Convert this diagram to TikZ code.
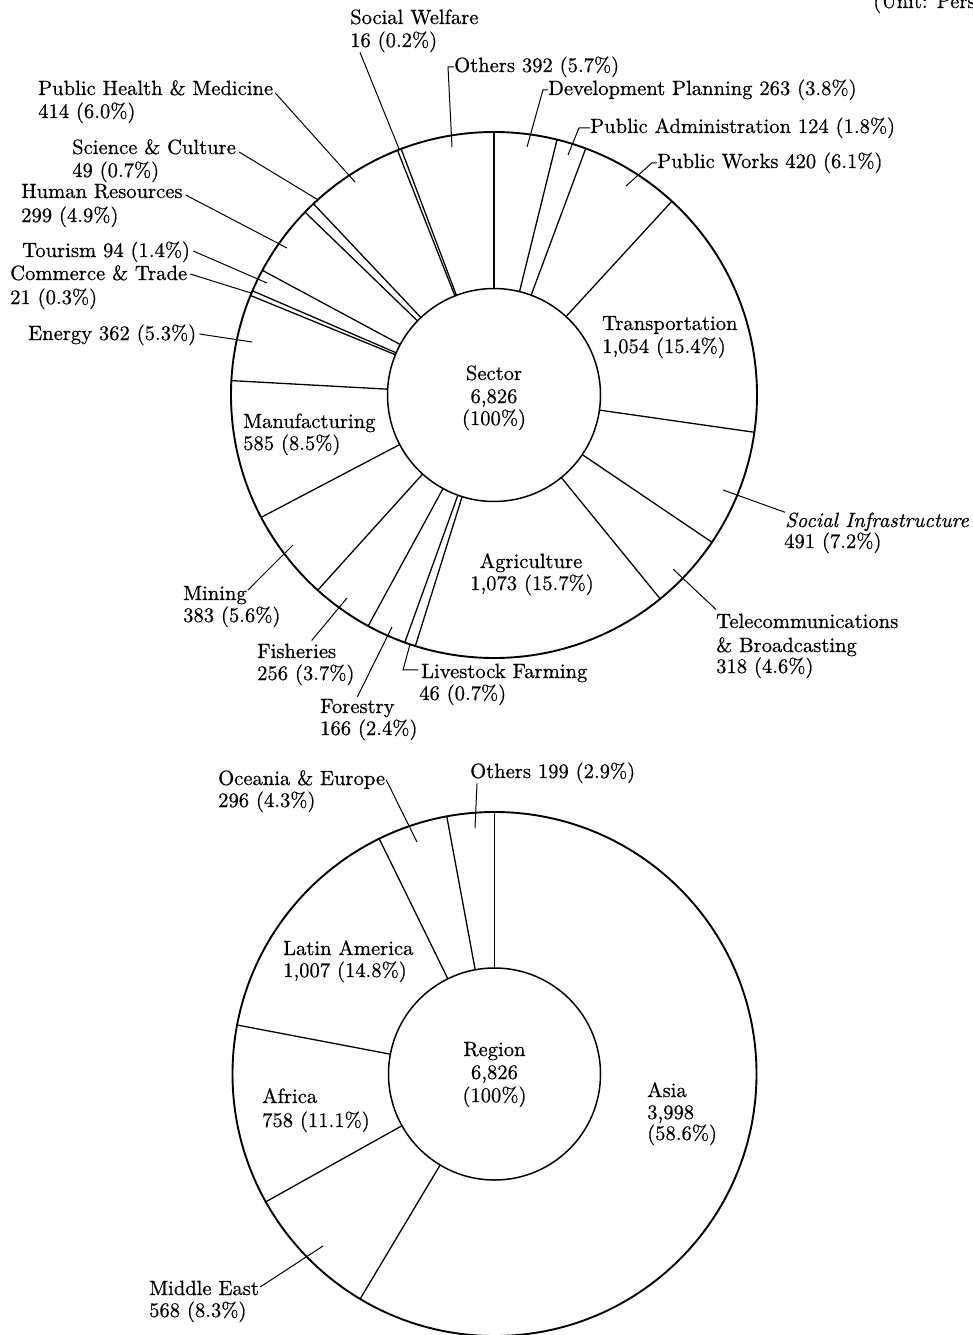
\documentclass[tikz,border=0pt]{standalone}
\usepackage{fontspec}
\setmainfont{lmroman10-regular.otf}[ItalicFont=lmroman10-italic.otf, FakeBold=0.6]
\usetikzlibrary{calc}
\begin{document}
\begin{tikzpicture}[x=1pt,y=-1pt,
  lbl/.style={inner sep=0pt, anchor=base west, font=\fontsize{20.6}{22.5}\selectfont},
  lblc/.style={lbl, anchor=base},
  ring/.style={line width=1.9pt},
  hub/.style={line width=1.5pt},
  spoke/.style={line width=1.3pt},
  leader/.style={line width=1pt},
]
\useasboundingbox (0,0) rectangle (973,1335);

% centres of the two rings
\coordinate (S) at (494,395);
\coordinate (R) at (494.5,1074);

% ---------- Sector ring ----------
\draw[ring] (S) circle[radius=263pt];
\draw[hub]  (S) circle[radius=106.5pt];
\foreach \c in {0,263,387,807,1861,2352,2670,3743,3789,3955,4211,4594,5179,5541,5562,5656,5955,6004,6418,6434}
  \draw[spoke] (S) ++({-90+\c/6826*360}:106.5) -- ++({-90+\c/6826*360}:156.5);

% ---------- Region ring ----------
\draw[ring] (R) circle[radius=262pt];
\draw[hub]  (R) circle[radius=106pt];
\foreach \c in {0,3998,4566,5324,6331,6627}
  \draw[spoke] (R) ++({-90+\c/6826*360}:106) -- ++({-90+\c/6826*360}:156);

% unit note
\node[lbl] (unit) at (873,8) {(Unit: Persons)};

% ---------- Sector labels ----------
\node[lblc] (seca) at (494,380) {Sector};
\node[lblc] (secb) at (494,403) {6,826};
\node[lblc] (secc) at (494,425) {(100\%)};

\node[lbl] (swa) at (350,24) {Social Welfare};
\node[lbl] (swb) at (350,47) {16 (0.2\%)};
\node[lbl] (oth) at (454,72) {Others 392 (5.7\%)};
\node[lbl] (dp)  at (548,95) {Development Planning 263 (3.8\%)};
\node[lbl] (pa)  at (590,133) {Public Administration 124 (1.8\%)};
\node[lbl] (pw)  at (657,168) {Public Works 420 (6.1\%)};
\node[lbl] (phma) at (38,95) {Public Health \& Medicine};
\node[lbl] (phmb) at (38,118) {414 (6.0\%)};
\node[lbl] (sca) at (72,154) {Science \& Culture};
\node[lbl] (scb) at (72,177) {49 (0.7\%)};
\node[lbl] (hra) at (21,198) {Human Resources};
\node[lbl] (hrb) at (21,222) {299 (4.9\%)};
\node[lbl] (tou) at (22,257) {Tourism 94 (1.4\%)};
\node[lbl] (cta) at (10,280) {Commerce \& Trade};
\node[lbl] (ctb) at (10,304) {21 (0.3\%)};
\node[lbl] (en)  at (28,340) {Energy 362 (5.3\%)};
\node[lbl] (mfa) at (243,428) {Manufacturing};
\node[lbl] (mfb) at (243,450) {585 (8.5\%)};
\node[lbl] (mia) at (183,600) {Mining};
\node[lbl] (mib) at (183,622) {383 (5.6\%)};
\node[lbl] (fia) at (257,658) {Fisheries};
\node[lbl] (fib) at (257,680) {256 (3.7\%)};
\node[lbl] (foa) at (320,713) {Forestry};
\node[lbl] (fob) at (320,735) {166 (2.4\%)};
\node[lbl] (lfa) at (421,678) {Livestock Farming};
\node[lbl] (lfb) at (419,700) {46 (0.7\%)};
\node[lblc] (aga) at (531,568) {Agriculture};
\node[lblc] (agb) at (532,590) {1,073 (15.7\%)};
\node[lbl] (tca) at (716,628) {Telecommunications};
\node[lbl] (tcb) at (716,652) {\& Broadcasting};
\node[lbl] (tcc) at (716,673) {318 (4.6\%)};
\node[lbl] (sia) at (785,527) {\itshape Social Infrastructure};
\node[lbl] (sib) at (784,548) {491 (7.2\%)};
\node[lbl] (tra) at (602,330) {Transportation};
\node[lbl] (trb) at (602,353) {1,054 (15.4\%)};

% leader ends inside the sector wedges
\coordinate (swE)  at ($(S)+({-90+6426/6826*360}:263)$);
\coordinate (othE) at (452,147);
\coordinate (dpE)  at (527,147);
\coordinate (paE)  at (568,155);
\coordinate (pwE)  at (626,186);
\coordinate (phmE) at (355,182);
\coordinate (scE)  at ($(S)+({-90+6028.5/6826*360}:263)$);
\coordinate (hrE)  at (287,248);
\coordinate (touE) at (267,283);
\coordinate (ctE)  at ($(S)+({-90+5551.5/6826*360}:263)$);
\coordinate (enE)  at (252,342);
\coordinate (miE)  at (293,545);
\coordinate (fiE)  at (347,598);
\coordinate (foE)  at (392,627);
\coordinate (lfE)  at ($(S)+({-90+3766/6826*360}:263)$);
\coordinate (siE)  at (723,490);
\coordinate (tcE)  at (673,569);

\draw[leader] ([xshift=10pt]swb.south west) -- (swE);
\draw[leader] (oth.west) -- ++(-6,0) -- (othE);
\draw[leader] (dp.west) -- ++(-5,0) -- (dpE);
\draw[leader] (pa.west) -- ++(-11,0) -- (paE);
\draw[leader] (pw.west) -- ++(-5,0) -- (pwE);
\draw[leader] ([xshift=2pt,yshift=2pt]phma.base east) -- (phmE);
\draw[leader] ([xshift=3pt,yshift=2pt]sca.base east) -- (scE);
\draw[leader] ([xshift=3pt,yshift=3pt]hra.base east) -- (hrE);
\draw[leader] ([xshift=3pt,yshift=6pt]tou.base east) -- (touE);
\draw[leader] ([xshift=3pt,yshift=6pt]cta.base east) -- (ctE);
\draw[leader] ([xshift=3pt,yshift=6pt]en.base east) -- (enE);
\draw[leader] ([xshift=1pt,yshift=5pt]mia.east) -- (miE);
\draw[leader] ([xshift=15pt,yshift=3pt]fia.north) -- (fiE);
\draw[leader] ([yshift=2pt]foa.north) -- (foE);
\draw[leader] ([xshift=-3pt,yshift=3pt]lfa.west) -- ++(-15,0) -- (lfE);
\draw[leader] (sia.north west) -- (siE);
\draw[leader] ([yshift=4pt]tca.north west) -- (tcE);

% ---------- Region labels ----------
\node[lblc] (rga) at (494.5,1056) {Region};
\node[lblc] (rgb) at (494.5,1079) {6,826};
\node[lblc] (rgc) at (494.5,1102) {(100\%)};

\node[lbl] (oea) at (218,785) {Oceania \& Europe};
\node[lbl] (oeb) at (218,807) {296 (4.3\%)};
\node[lbl] (ot2) at (470,778) {Others 199 (2.9\%)};
\node[lbl] (laa) at (283,955) {Latin America};
\node[lbl] (lab) at (283,977) {1,007 (14.8\%)};
\node[lbl] (afa) at (262,1103) {Africa};
\node[lbl] (afb) at (262,1127) {758 (11.1\%)};
\node[lbl] (mea) at (149,1295) {Middle East};
\node[lbl] (meb) at (149,1317) {568 (8.3\%)};
\node[lbl] (asa) at (647,1097) {Asia};
\node[lbl] (asb) at (647,1119) {3,998};
\node[lbl] (asc) at (647,1140) {(58.6\%)};

\coordinate (oeE)  at (417,842);
\coordinate (ot2E) at (475,828);
\coordinate (meE)  at (323,1246);

\draw[leader] ([xshift=1pt,yshift=5pt]oea.base east) -- (oeE);
\draw[leader] ([xshift=7pt]ot2.south west) -- (ot2E);
\draw[leader] ([xshift=1pt,yshift=8pt]mea.base east) -- (meE);
\end{tikzpicture}
\end{document}
